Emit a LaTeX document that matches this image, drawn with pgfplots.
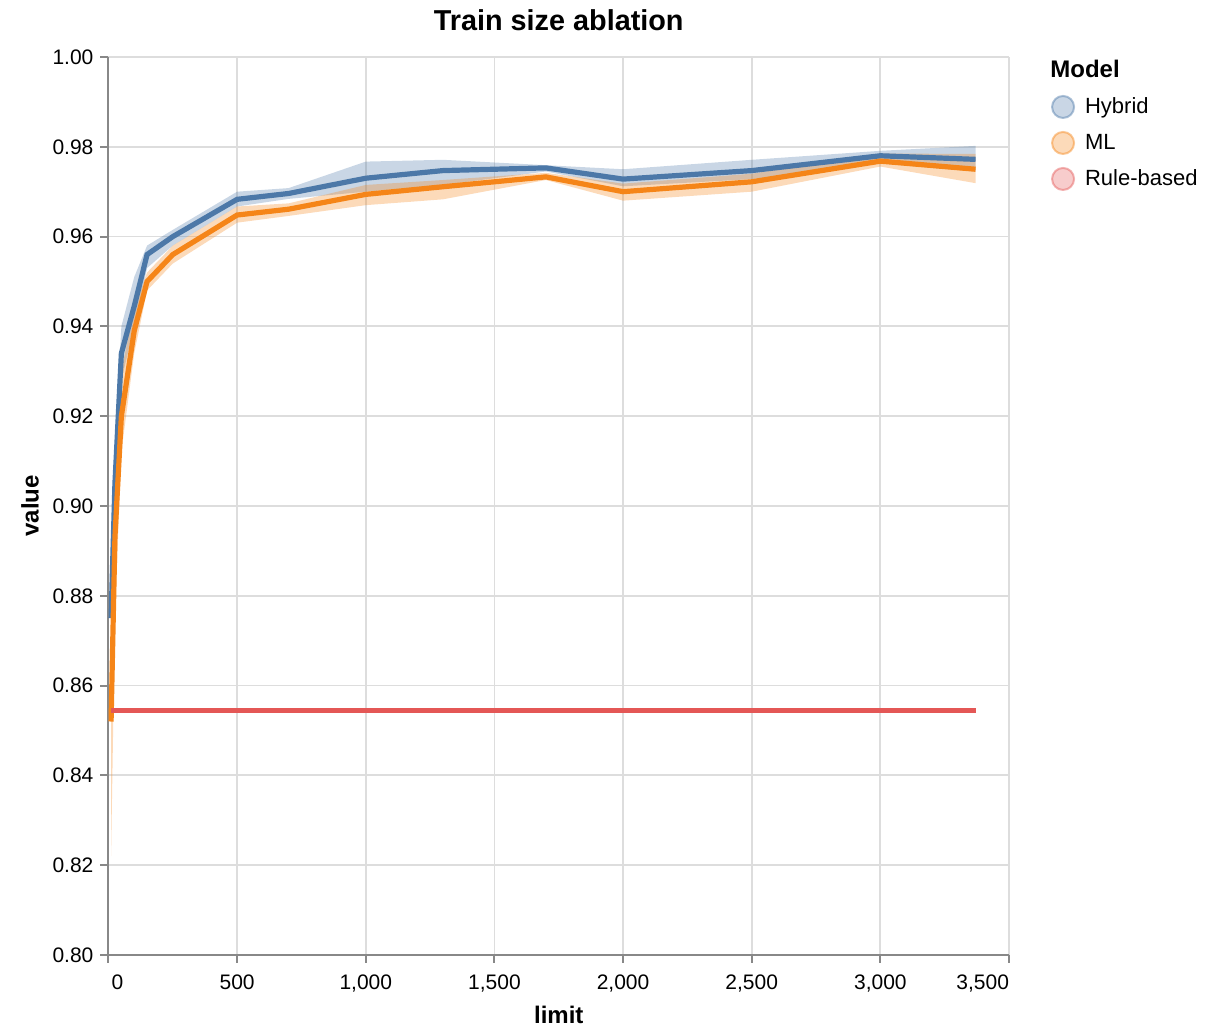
\documentclass[border=0pt]{standalone}
\usepackage{pgfplots}
\pgfplotsset{compat=1.18}
\usepgfplotslibrary{fillbetween}
\usepackage{pgfplotstable}
\usepackage{fontspec}
\setmainfont{Liberation Sans}
\definecolor{hyb}{HTML}{4C78A8}
\definecolor{mlc}{HTML}{F58518}
\definecolor{rbc}{HTML}{E45756}
\definecolor{axgray}{HTML}{888888}
\definecolor{gridgray}{HTML}{DDDDDD}

\pgfplotstableread{
x     y      lo     hi
10    0.875  0.872  0.878
25    0.905  0.897  0.913
50    0.934  0.928  0.940
100   0.9445 0.940  0.951
150   0.956  0.953  0.958
250   0.960  0.958  0.9615
500   0.9683 0.9667 0.9700
700   0.9696 0.9684 0.9708
1000  0.9730 0.9700 0.9767
1300  0.9747 0.9715 0.9771
1700  0.9753 0.9745 0.9759
2000  0.9728 0.9712 0.9750
2500  0.9747 0.9728 0.9771
3000  0.9780 0.9763 0.9791
3370  0.9772 0.9745 0.9802
}\hybtab

\pgfplotstableread{
x     y      lo     hi
10    0.852  0.822  0.862
25    0.893  0.875  0.905
50    0.920  0.912  0.930
100   0.939  0.934  0.944
150   0.950  0.948  0.952
250   0.956  0.954  0.958
500   0.9648 0.9631 0.9667
700   0.9661 0.9646 0.9674
1000  0.9694 0.9670 0.9715
1300  0.9711 0.9683 0.9726
1700  0.9733 0.9726 0.9742
2000  0.9700 0.9680 0.9718
2500  0.9722 0.9700 0.9740
3000  0.9768 0.9756 0.9785
3370  0.9750 0.9719 0.9784
}\mltab

\pgfplotstableread{
x     y
10    0.8545
3370  0.8545
}\rbtab

\begin{document}
\begin{tikzpicture}
\begin{axis}[
  at={(0pt,0pt)}, anchor=south west,
  scale only axis, width=450.25pt, height=449pt,
  clip mode=individual,
  xmin=0, xmax=3500, ymin=0.8, ymax=1.0,
  xtick={0,500,1000,1500,2000,2500,3000,3500},
  ytick={0.80,0.82,0.84,0.86,0.88,0.90,0.92,0.94,0.96,0.98,1.00},
  axis x line*=bottom, axis y line*=left,
  axis line style={draw=axgray, line width=1pt, -},
  tick style={draw=axgray, line width=1pt},
  major tick length=4pt, tick align=outside,
  grid=major,
  major grid style={draw=gridgray, line width=0.9pt},
  /pgf/number format/assume math mode=true,
  x tick label style={/pgf/number format/1000 sep={,}, font=\fontsize{10.5}{12}\selectfont, yshift=-2.5pt},
  y tick label style={/pgf/number format/.cd, fixed, fixed zerofill, precision=2, /tikz/.cd, font=\fontsize{10.5}{12}\selectfont},
  xticklabel={\ifnum\ticknum=0 \rlap{\hspace{1.5pt}\pgfmathprintnumber{\tick}}\else\ifnum\ticknum=7 \llap{\pgfmathprintnumber{\tick}}\else\pgfmathprintnumber{\tick}\fi\fi},
  title={Train size ablation},
  every axis title/.style={at={(axis description cs:0.5,1.0412)}, anchor=center, font=\bfseries\fontsize{14.4}{16}\selectfont},
  xlabel={limit},
  every axis x label/.style={at={(axis description cs:0.5,-0.0668)}, anchor=center, font=\bfseries\fontsize{12}{14}\selectfont},
  ylabel={value},
  every axis y label/.style={at={(axis description cs:-0.0872,0.5)}, rotate=90, anchor=center, font=\bfseries\fontsize{12}{14}\selectfont},
  legend cell align=left,
  legend style={at={(axis description cs:1.0467,0.9644)}, anchor=north west, draw=none, fill=none,
    inner sep=0pt, outer sep=0pt, row sep=0pt, column sep=5pt,
    font=\fontsize{11}{13}\selectfont,
    nodes={inner sep=0pt, minimum height=18pt}},
]
% lines
\addplot[forget plot, hyb, line width=2.6pt] table[x=x, y=y]{\hybtab};
\addplot[forget plot, mlc, line width=2.6pt] table[x=x, y=y]{\mltab};
\addplot[forget plot, rbc, line width=2.5pt] table[x=x, y=y]{\rbtab};
% bands
\addplot[forget plot, draw=none, name path=hhi] table[x=x, y=hi]{\hybtab};
\addplot[forget plot, draw=none, name path=hlo] table[x=x, y=lo]{\hybtab};
\addplot[forget plot, fill=hyb, fill opacity=0.3, draw=none] fill between[of=hhi and hlo];
\addplot[forget plot, draw=none, name path=mhi] table[x=x, y=hi]{\mltab};
\addplot[forget plot, draw=none, name path=mlo] table[x=x, y=lo]{\mltab};
\addplot[forget plot, fill=mlc, fill opacity=0.3, draw=none] fill between[of=mhi and mlo];
% legend
\addlegendimage{legend image code/.code={\draw[draw=hyb, draw opacity=0.45, fill=hyb, fill opacity=0.3, line width=1pt] (5.5pt,0pt) circle (5.5pt);}}
\addlegendentry{Hybrid}
\addlegendimage{legend image code/.code={\draw[draw=mlc, draw opacity=0.45, fill=mlc, fill opacity=0.3, line width=1pt] (5.5pt,0pt) circle (5.5pt);}}
\addlegendentry{ML}
\addlegendimage{legend image code/.code={\draw[draw=rbc, draw opacity=0.45, fill=rbc, fill opacity=0.3, line width=1pt] (5.5pt,0pt) circle (5.5pt);}}
\addlegendentry{Rule-based}
\end{axis}
\node[anchor=west, font=\bfseries\fontsize{12}{14}\selectfont, inner sep=0pt] at (470.75pt,443pt) {Model};
\pgfresetboundingbox
\useasboundingbox (-54.25pt,-35.5pt) rectangle (558.25pt,477.5pt);
\end{tikzpicture}
\end{document}
